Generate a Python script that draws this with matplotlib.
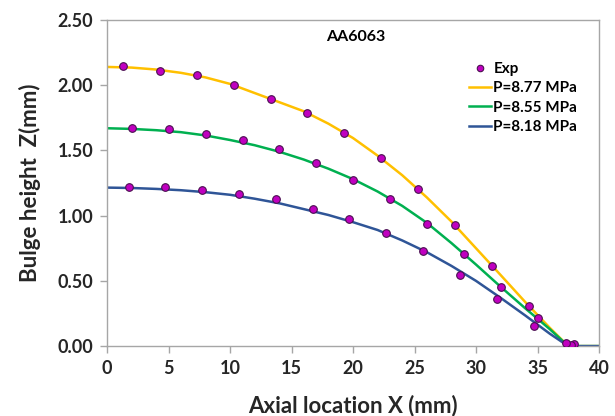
import numpy as np
import matplotlib.pyplot as plt

plt.rcParams["font.family"] = ["Lato", "DejaVu Sans"]

# experimental bulge profile (axial location, bulge height)
exp_x = [1.33, 4.33, 7.34, 10.35, 13.36, 16.29, 19.29, 22.28, 25.28, 28.29, 31.3, 34.28, 37.97,
         2.0, 5.02, 8.02, 11.03, 14.0, 17.0, 20.02, 23.0, 26.0, 29.02, 32.0, 35.0, 37.7,
         1.76, 4.72, 7.72, 10.73, 13.72, 16.72, 19.7, 22.71, 25.72, 28.72, 31.71, 34.74, 37.29]
exp_z = [2.147, 2.111, 2.076, 2.004, 1.892, 1.787, 1.633, 1.444, 1.204, 0.926, 0.616, 0.309, 0.018,
         1.674, 1.664, 1.626, 1.577, 1.508, 1.406, 1.275, 1.127, 0.938, 0.708, 0.455, 0.217, 0.008,
         1.217, 1.217, 1.196, 1.166, 1.130, 1.053, 0.974, 0.864, 0.729, 0.547, 0.358, 0.156, 0.025]

# simulated profiles
sim_x = [0, 2, 4, 6, 8, 10, 12, 14, 16, 18, 20, 22, 24, 26, 28, 30, 32, 34, 36, 37.5, 40]
z_877 = [2.14, 2.135, 2.12, 2.095, 2.06, 2.01, 1.94, 1.87, 1.80, 1.705, 1.595, 1.46, 1.31,
         1.14, 0.955, 0.75, 0.545, 0.338, 0.14, 0.0, 0.0]
z_855 = [1.67, 1.665, 1.655, 1.64, 1.615, 1.58, 1.54, 1.49, 1.43, 1.36, 1.28, 1.185, 1.075,
         0.945, 0.79, 0.625, 0.455, 0.29, 0.13, 0.0, 0.0]
z_818 = [1.215, 1.212, 1.205, 1.195, 1.18, 1.16, 1.13, 1.095, 1.05, 1.005, 0.95, 0.89, 0.81,
         0.72, 0.615, 0.50, 0.37, 0.235, 0.095, 0.0, 0.0]

fig = plt.figure(figsize=(6.15, 4.16), dpi=100)
ax = fig.add_axes([0.174, 0.168, 0.8, 0.784])

ax.plot(sim_x, z_877, color="#FFC000", lw=1.8, label="P=8.77 MPa", zorder=2)
ax.plot(sim_x, z_855, color="#00B050", lw=1.8, label="P=8.55 MPa", zorder=2)
ax.plot(sim_x, z_818, color="#2F5597", lw=1.8, label="P=8.18 MPa", zorder=2)
ax.plot(exp_x, exp_z, ls="none", marker="o", ms=5.5, mfc="#C000C0", mec="#4A1050",
        mew=0.8, label="Exp", zorder=3)

ax.set_xlim(0, 40)
ax.set_ylim(0, 2.5)
ax.set_xticks(np.arange(0, 41, 5))
ax.set_yticks(np.arange(0, 2.51, 0.5))
ax.set_yticklabels([f"{v:.2f}" for v in np.arange(0, 2.51, 0.5)])

for s in ax.spines.values():
    s.set_color("#A6A6A6")
    s.set_linewidth(1.0)
ax.tick_params(direction="out", length=5, width=1, color="#A6A6A6",
               labelsize=13, labelcolor="#262626", pad=5)
for lab in ax.get_xticklabels() + ax.get_yticklabels():
    lab.set_fontweight("bold")

ax.set_xlabel("Axial location X (mm)", fontsize=16, fontweight="bold", color="#262626", labelpad=13)
ax.set_ylabel("Bulge height  Z(mm)", fontsize=16, fontweight="bold", color="#262626", labelpad=12)

ax.text(0.506, 0.948, "AA6063", transform=ax.transAxes, ha="center", va="center",
        fontsize=11.5, fontweight="bold", color="black")

h, l = ax.get_legend_handles_labels()
order = [3, 0, 1, 2]
ax.legend([h[i] for i in order], [l[i] for i in order], loc="upper left",
          bbox_to_anchor=(0.72, 0.895), frameon=False, borderpad=0, handlelength=1.45,
          handletextpad=0.15, labelspacing=0.35, prop={"size": 11, "weight": "bold"},
          markerscale=0.85)

fig.savefig("out.png", dpi=100)
